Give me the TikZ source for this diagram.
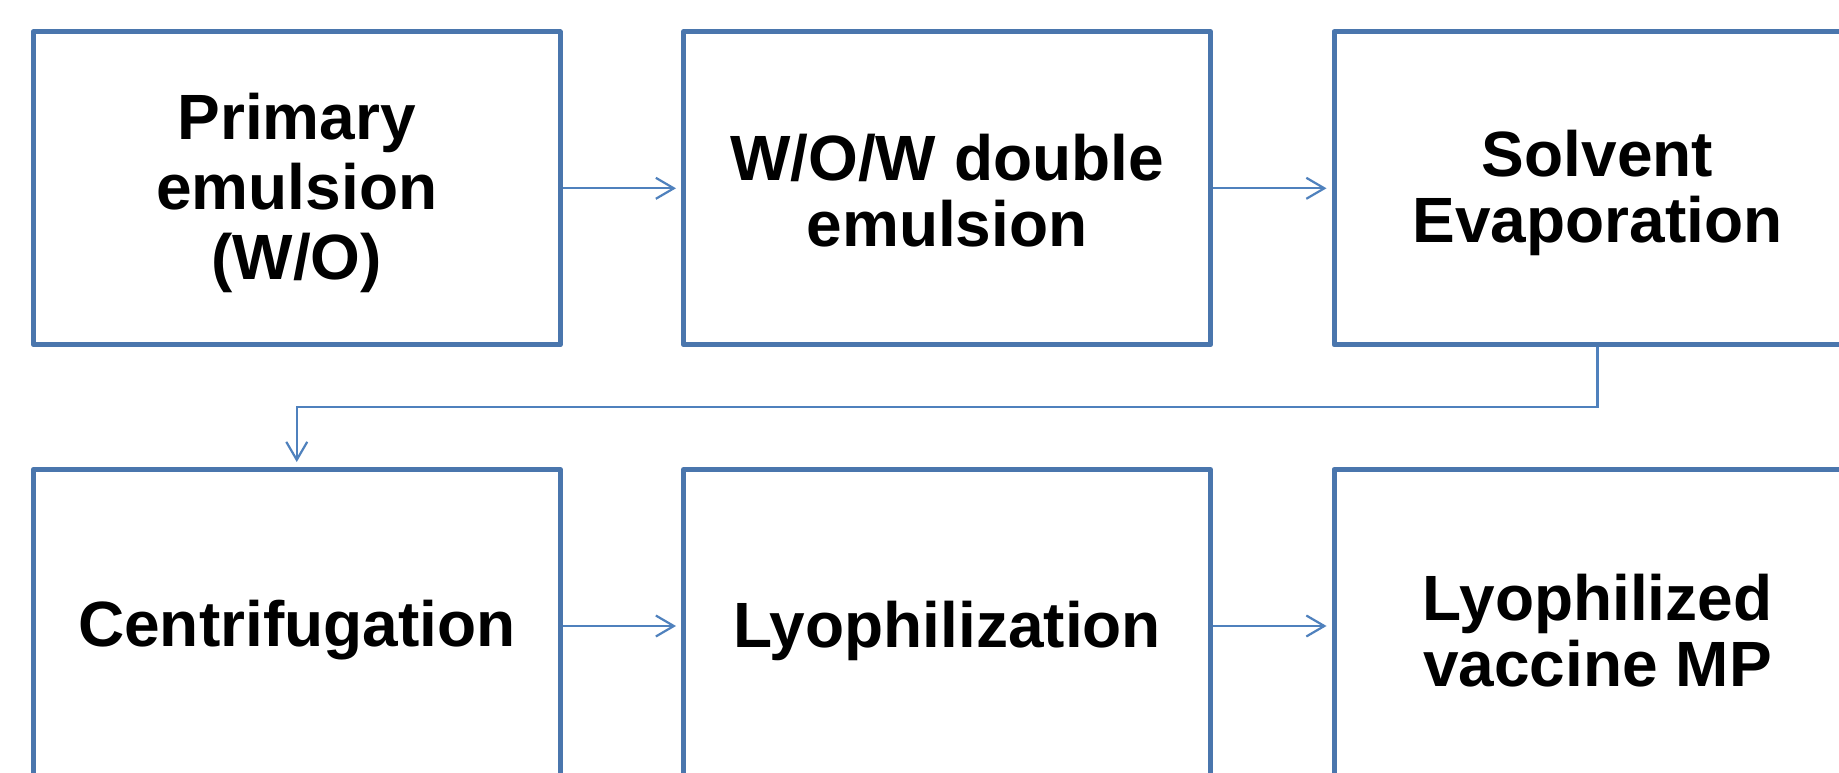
\documentclass[tikz,border=0pt]{standalone}
\usepackage{fontspec}
\setmainfont{Liberation Sans}
\usetikzlibrary{arrows.meta}
\definecolor{boxblue}{RGB}{74,118,173}
\definecolor{lineblue}{RGB}{79,129,189}
\begin{document}
\begin{tikzpicture}[x=1pt,y=-1pt,
  stepbox/.style={draw=boxblue, line width=5pt, line join=round, minimum width=527pt, minimum height=313pt,
    inner sep=0pt},
  boxtext/.style={align=center, inner sep=0pt, yshift=-4.5pt, font=\fontsize{64}{66}\selectfont\bfseries},
  widelines/.style={font=\fontsize{64}{70}\selectfont\bfseries},
  flow/.style={draw=lineblue, line width=2.2pt, -{Straight Barb[length=18pt,width=21pt]}, shorten >=5pt}]
\useasboundingbox (0,0) rectangle (1839,773);
\clip (0,0) rectangle (1839,773);
\fill[white] (0,0) rectangle (1839,773);
\node[stepbox, label={[boxtext, widelines]center:{Primary\\emulsion\\(W/O)}}] (a) at (296.75,188.3) {};
\node[stepbox, label={[boxtext, yshift=2pt]center:{W/O/W double\\emulsion}}] (b) at (947,188.3) {};
\node[stepbox, label={[boxtext]center:{Solvent\\Evaporation}}] (c) at (1597.5,188.3) {};
\node[stepbox, label={[boxtext]center:{Centrifugation}}] (d) at (296.75,626) {};
\node[stepbox, label={[boxtext]center:{Lyophilization}}] (e) at (947,626) {};
\node[stepbox, label={[boxtext]center:{Lyophilized\\vaccine MP}}] (f) at (1597.5,626) {};
\coordinate (turn) at (296.75,407);
\draw[flow] (a.east) -- (b.west);
\draw[flow] (b.east) -- (c.west);
\draw[flow] (c.south) |- (turn) -- (d.north);
\draw[flow] (d.east) -- (e.west);
\draw[flow] (e.east) -- (f.west);
\end{tikzpicture}
\end{document}
